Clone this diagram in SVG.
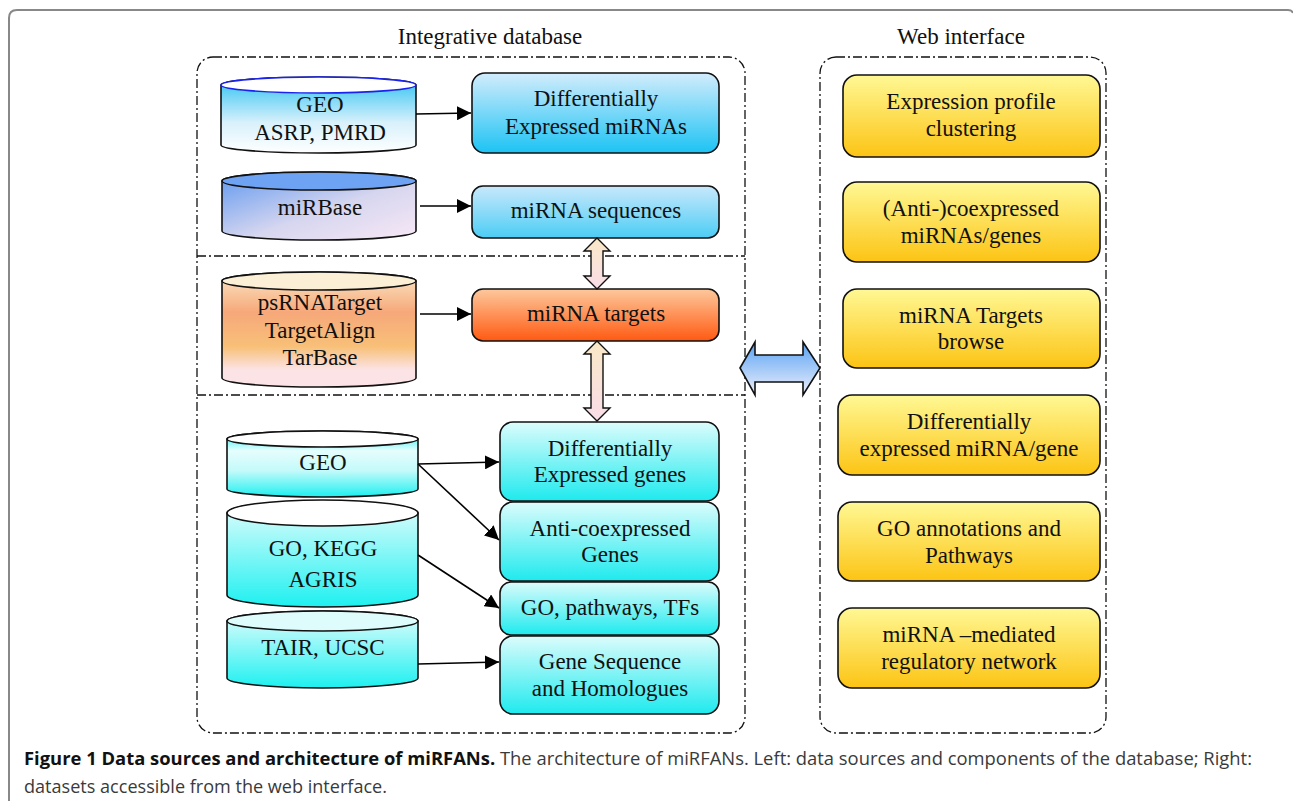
<svg xmlns="http://www.w3.org/2000/svg" width="1293" height="801" viewBox="0 0 1293 801">
<defs>
<linearGradient id="gBlue" x1="0" y1="0" x2="0" y2="1"><stop offset="0" stop-color="#d2ecfc"/><stop offset="1" stop-color="#1cc3f4"/></linearGradient>
<linearGradient id="gBlue2" x1="0" y1="0" x2="0" y2="1"><stop offset="0" stop-color="#c8e8fb"/><stop offset="1" stop-color="#4ccdf5"/></linearGradient>
<linearGradient id="gOrange" x1="0" y1="0" x2="0" y2="1"><stop offset="0" stop-color="#fdc89c"/><stop offset="1" stop-color="#ff5a12"/></linearGradient>
<linearGradient id="gCyan" x1="0" y1="0" x2="0" y2="1"><stop offset="0" stop-color="#dcfcfc"/><stop offset="1" stop-color="#1eeaee"/></linearGradient>
<linearGradient id="gYellow" x1="0" y1="0" x2="0" y2="1"><stop offset="0" stop-color="#fff894"/><stop offset="1" stop-color="#fcc414"/></linearGradient>
<linearGradient id="gC1" x1="0" y1="0" x2="0" y2="1"><stop offset="0" stop-color="#2cc2f2"/><stop offset="0.6" stop-color="#d8f1fb"/><stop offset="1" stop-color="#ffffff"/></linearGradient>
<linearGradient id="gC2" x1="0" y1="0" x2="1" y2="1"><stop offset="0" stop-color="#5f98f0"/><stop offset="0.55" stop-color="#d6d6ef"/><stop offset="1" stop-color="#f8e8f6"/></linearGradient>
<linearGradient id="gC3" x1="0" y1="0" x2="0" y2="1"><stop offset="0" stop-color="#fbe9c8"/><stop offset="0.35" stop-color="#f6a87a"/><stop offset="0.65" stop-color="#f8c078"/><stop offset="0.85" stop-color="#fbe3e6"/><stop offset="1" stop-color="#fbe3e6"/></linearGradient>
<linearGradient id="gC4" x1="0" y1="0" x2="0" y2="1"><stop offset="0" stop-color="#1ef0f0"/><stop offset="0.3" stop-color="#e6fdfd"/><stop offset="0.6" stop-color="#c4fafa"/><stop offset="1" stop-color="#1ef0f0"/></linearGradient>
<linearGradient id="gCy" x1="0" y1="0" x2="0" y2="1"><stop offset="0" stop-color="#e6fdfd"/><stop offset="1" stop-color="#1ef0f0"/></linearGradient>
<linearGradient id="gDA" x1="0" y1="0" x2="0" y2="1"><stop offset="0" stop-color="#f9e8c6"/><stop offset="1" stop-color="#f9dde9"/></linearGradient>
<linearGradient id="gBig" x1="0" y1="0" x2="0" y2="1"><stop offset="0" stop-color="#58a2f4"/><stop offset="1" stop-color="#eef0fa"/></linearGradient>
<marker id="ah" viewBox="0 0 10 10" refX="10" refY="5" markerWidth="14" markerHeight="14" markerUnits="userSpaceOnUse" orient="auto"><path d="M0,0 L10,5 L0,10 Z" fill="#000"/></marker>
</defs>
<style>
.t{font-family:"Liberation Serif","Times New Roman",serif;font-size:23px;fill:#111;text-anchor:middle}
.h{font-family:"Liberation Serif","Times New Roman",serif;font-size:23px;fill:#111;text-anchor:middle}
.box{stroke:#111;stroke-width:1.6}
.cyl{stroke:#111;stroke-width:1.6}
.dd{fill:none;stroke:#111;stroke-width:1.3;stroke-dasharray:9 3 2 3}
.con{fill:none;stroke:#000;stroke-width:1.6;marker-end:url(#ah)}
.cap{font-family:"Open Sans","Noto Sans",sans-serif;font-size:18.5px;fill:#3a3a3a}
</style>
<rect width="1293" height="801" fill="#fff"/>
<path d="M9,801 V18 Q9,10 17,10 H1288 Q1292,10 1293,13" fill="none" stroke="#888" stroke-width="2"/>

<text class="h" x="490" y="44">Integrative database</text>
<text class="h" x="961" y="44">Web interface</text>

<g id="containers">
<rect class="dd" x="197" y="57" width="548" height="676" rx="16"/>
<line class="dd" x1="197" y1="256" x2="745" y2="256"/>
<line class="dd" x1="197" y1="395" x2="745" y2="395"/>
<rect class="dd" x="820" y="57" width="286" height="676" rx="16"/>
</g>

<g id="cyl-geo1">
<path class="cyl" d="M221,85 V145 A97.5,8 0 0 0 416,145 V85 A97.5,8 0 0 0 221,85 Z" fill="url(#gC1)" stroke="#1a22ee"/>
<ellipse cx="318.5" cy="85" rx="97.5" ry="8" fill="#fff" stroke="#1a22ee" stroke-width="1.6"/>
<text class="t" x="320" y="112">GEO</text>
<text class="t" x="320" y="140">ASRP, PMRD</text>
</g>
<g id="cyl-mirbase">
<path class="cyl" d="M222,181 V231 A97,9 0 0 0 416,231 V181 A97,9 0 0 0 222,181 Z" fill="url(#gC2)"/>
<ellipse class="cyl" cx="319" cy="181" rx="97" ry="9" fill="#6ea3f4"/>
<text class="t" x="320" y="215">miRBase</text>
</g>
<g id="cyl-ps">
<path class="cyl" d="M222,281 V378 A97,9 0 0 0 416,378 V281 A97,9 0 0 0 222,281 Z" fill="url(#gC3)"/>
<ellipse class="cyl" cx="319" cy="281" rx="97" ry="9" fill="#fbefd6"/>
<text class="t" x="320" y="310">psRNATarget</text>
<text class="t" x="320" y="338">TargetAlign</text>
<text class="t" x="320" y="365">TarBase</text>
</g>
<g id="cyl-geo2">
<path class="cyl" d="M227,439 V489 A95.5,8 0 0 0 418,489 V439 A95.5,8 0 0 0 227,439 Z" fill="url(#gC4)"/>
<ellipse class="cyl" cx="322.5" cy="439" rx="95.5" ry="8" fill="#fff"/>
<text class="t" x="323" y="470">GEO</text>
</g>
<g id="cyl-go">
<path class="cyl" d="M227,513 V595 A95.5,12 0 0 0 418,595 V513 A95.5,12 0 0 0 227,513 Z" fill="url(#gCy)"/>
<ellipse class="cyl" cx="322.5" cy="513" rx="95.5" ry="13" fill="#fff"/>
<text class="t" x="323" y="556">GO, KEGG</text>
<text class="t" x="323" y="587">AGRIS</text>
</g>
<g id="cyl-tair">
<path class="cyl" d="M227,621 V678 A95.5,10 0 0 0 418,678 V621 A95.5,10 0 0 0 227,621 Z" fill="url(#gCy)"/>
<ellipse class="cyl" cx="322.5" cy="621" rx="95.5" ry="10" fill="#dffcfc"/>
<text class="t" x="323" y="655">TAIR, UCSC</text>
</g>

<g id="box-dem">
<rect class="box" x="472" y="73" width="247" height="80" rx="13" fill="url(#gBlue)"/>
<text class="t" x="596" y="106">Differentially</text>
<text class="t" x="596" y="134">Expressed miRNAs</text>
</g>
<g id="box-seq">
<rect class="box" x="472" y="186" width="247" height="52" rx="11" fill="url(#gBlue2)"/>
<text class="t" x="596" y="218">miRNA sequences</text>
</g>
<g id="box-targets">
<rect class="box" x="472" y="289" width="247" height="52" rx="11" fill="url(#gOrange)"/>
<text class="t" x="596" y="321">miRNA targets</text>
</g>
<g id="box-deg">
<rect class="box" x="500" y="422" width="219" height="79" rx="13" fill="url(#gCyan)"/>
<text class="t" x="610" y="456">Differentially</text>
<text class="t" x="610" y="482">Expressed genes</text>
</g>
<g id="box-anti">
<rect class="box" x="500" y="502" width="219" height="79" rx="13" fill="url(#gCyan)"/>
<text class="t" x="610" y="536">Anti-coexpressed</text>
<text class="t" x="610" y="562">Genes</text>
</g>
<g id="box-go">
<rect class="box" x="500" y="582" width="219" height="53" rx="11" fill="url(#gCyan)"/>
<text class="t" x="610" y="615">GO, pathways, TFs</text>
</g>
<g id="box-gene">
<rect class="box" x="500" y="636" width="219" height="78" rx="13" fill="url(#gCyan)"/>
<text class="t" x="610" y="669">Gene Sequence</text>
<text class="t" x="610" y="696">and Homologues</text>
</g>

<g id="web-1">
<rect class="box" x="843" y="75" width="257" height="82" rx="14" fill="url(#gYellow)"/>
<text class="t" x="971" y="109">Expression profile</text>
<text class="t" x="971" y="136">clustering</text>
</g>
<g id="web-2">
<rect class="box" x="843" y="182" width="257" height="80" rx="14" fill="url(#gYellow)"/>
<text class="t" x="971" y="216">(Anti-)coexpressed</text>
<text class="t" x="971" y="243">miRNAs/genes</text>
</g>
<g id="web-3">
<rect class="box" x="843" y="289" width="257" height="79" rx="14" fill="url(#gYellow)"/>
<text class="t" x="971" y="323">miRNA Targets</text>
<text class="t" x="971" y="349">browse</text>
</g>
<g id="web-4">
<rect class="box" x="838" y="395" width="262" height="80" rx="14" fill="url(#gYellow)"/>
<text class="t" x="969" y="429">Differentially</text>
<text class="t" x="969" y="456">expressed miRNA/gene</text>
</g>
<g id="web-5">
<rect class="box" x="838" y="502" width="262" height="79" rx="14" fill="url(#gYellow)"/>
<text class="t" x="969" y="536">GO annotations and</text>
<text class="t" x="969" y="563">Pathways</text>
</g>
<g id="web-6">
<rect class="box" x="838" y="608" width="262" height="80" rx="14" fill="url(#gYellow)"/>
<text class="t" x="969" y="642">miRNA –mediated</text>
<text class="t" x="969" y="669">regulatory network</text>
</g>

<g id="connectors">
<line class="con" x1="416" y1="114" x2="471" y2="113"/>
<line class="con" x1="420" y1="206" x2="471" y2="206"/>
<line class="con" x1="420" y1="314" x2="471" y2="314"/>
<line class="con" x1="418" y1="464" x2="499" y2="462"/>
<line class="con" x1="418" y1="464" x2="499" y2="540"/>
<line class="con" x1="418" y1="555" x2="499" y2="608"/>
<line class="con" x1="418" y1="664" x2="499" y2="662"/>
<path d="M597,238 L610,251 L603,251 L603,276 L610,276 L597,289 L584,276 L591,276 L591,251 L584,251 Z" fill="url(#gDA)" stroke="#111" stroke-width="1.4"/>
<path d="M597,341 L610,354 L603,354 L603,408 L610,408 L597,421 L584,408 L591,408 L591,354 L584,354 Z" fill="url(#gDA)" stroke="#111" stroke-width="1.4"/>
<path d="M740,368 L755,342 L755,355 L803,355 L803,342 L820,368 L803,395 L803,382 L755,382 L755,395 Z" fill="url(#gBig)" stroke="#111" stroke-width="1.6"/>
</g>

<g id="caption">
<text class="cap" x="24" y="765" textLength="1228" lengthAdjust="spacingAndGlyphs"><tspan font-weight="bold" fill="#111">Figure 1 Data sources and architecture of miRFANs.</tspan> The architecture of miRFANs. Left: data sources and components of the database; Right:</text>
<text class="cap" x="24" y="793" textLength="363" lengthAdjust="spacingAndGlyphs">datasets accessible from the web interface.</text>
</g>
</svg>
